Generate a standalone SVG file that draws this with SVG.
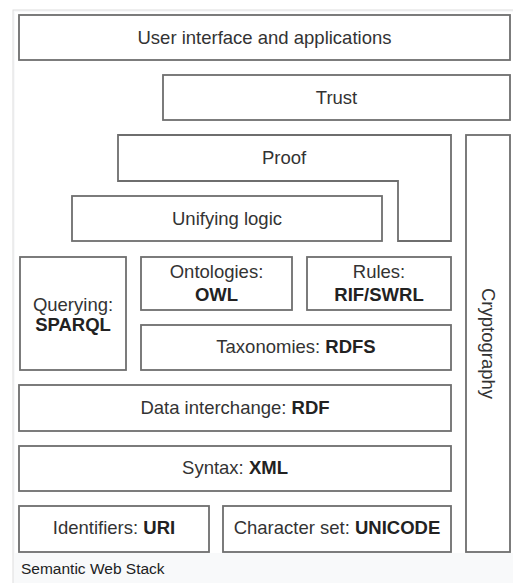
<svg xmlns="http://www.w3.org/2000/svg" width="513" height="583" viewBox="0 0 513 583">
  <style>
    .box { fill: #ffffff; stroke: #6e6e6e; stroke-width: 1.8; }
    .lbl { font-family: "Liberation Sans", Arial, sans-serif; font-size: 18.5px; fill: #333333; text-anchor: middle; }
    .b { font-weight: bold; fill: #222222; }
    .cap { font-family: "Liberation Sans", Arial, sans-serif; font-size: 15.5px; fill: #202122; }
  </style>

  <!-- page and thumbnail frame -->
  <rect x="0" y="0" width="513" height="583" fill="#ffffff"/>
  <rect x="13" y="10" width="510" height="580" fill="#f8f9fa" stroke="#dddddd" stroke-width="1"/>
  <rect x="15" y="12" width="498" height="541" fill="#ffffff"/>

  <g id="ui">
    <rect class="box" x="19" y="15" width="491" height="45"/>
    <text class="lbl" x="264.5" y="44">User interface and applications</text>
  </g>

  <g id="trust">
    <rect class="box" x="163" y="75" width="347" height="45"/>
    <text class="lbl" x="336.5" y="104">Trust</text>
  </g>

  <g id="proof">
    <polygon class="box" points="118,135 451,135 451,241 398,241 398,181 118,181"/>
    <text class="lbl" x="284" y="164">Proof</text>
  </g>

  <g id="logic">
    <rect class="box" x="72" y="196" width="310" height="45"/>
    <text class="lbl" x="227" y="224.5">Unifying logic</text>
  </g>

  <g id="crypto">
    <rect class="box" x="466" y="135" width="44" height="417"/>
    <text class="lbl" transform="translate(481.5 343.5) rotate(90)" x="0" y="0">Cryptography</text>
  </g>

  <g id="query">
    <rect class="box" x="20" y="257" width="106" height="113"/>
    <text class="lbl" x="73" y="310.5">Querying:</text>
    <text class="lbl b" x="73" y="331">SPARQL</text>
  </g>

  <g id="owl">
    <rect class="box" x="141" y="257" width="151" height="53"/>
    <text class="lbl" x="216.5" y="278">Ontologies:</text>
    <text class="lbl b" x="216.5" y="301">OWL</text>
  </g>

  <g id="rules">
    <rect class="box" x="307" y="257" width="144" height="53"/>
    <text class="lbl" x="379" y="278">Rules:</text>
    <text class="lbl b" x="379" y="301">RIF/SWRL</text>
  </g>

  <g id="rdfs">
    <rect class="box" x="141" y="325" width="310" height="45"/>
    <text class="lbl" x="296" y="353">Taxonomies: <tspan class="b">RDFS</tspan></text>
  </g>

  <g id="rdf">
    <rect class="box" x="19" y="385" width="432" height="46"/>
    <text class="lbl" x="235" y="414">Data interchange: <tspan class="b">RDF</tspan></text>
  </g>

  <g id="xml">
    <rect class="box" x="19" y="446" width="432" height="45"/>
    <text class="lbl" x="235" y="474">Syntax: <tspan class="b">XML</tspan></text>
  </g>

  <g id="uri">
    <rect class="box" x="19" y="506" width="190" height="46"/>
    <text class="lbl" x="114" y="534">Identifiers: <tspan class="b">URI</tspan></text>
  </g>

  <g id="unicode">
    <rect class="box" x="223" y="506" width="228" height="46"/>
    <text class="lbl" x="337" y="534">Character set: <tspan class="b">UNICODE</tspan></text>
  </g>

  <g id="connectors"/>

  <text class="cap" x="21" y="574">Semantic Web Stack</text>
</svg>
